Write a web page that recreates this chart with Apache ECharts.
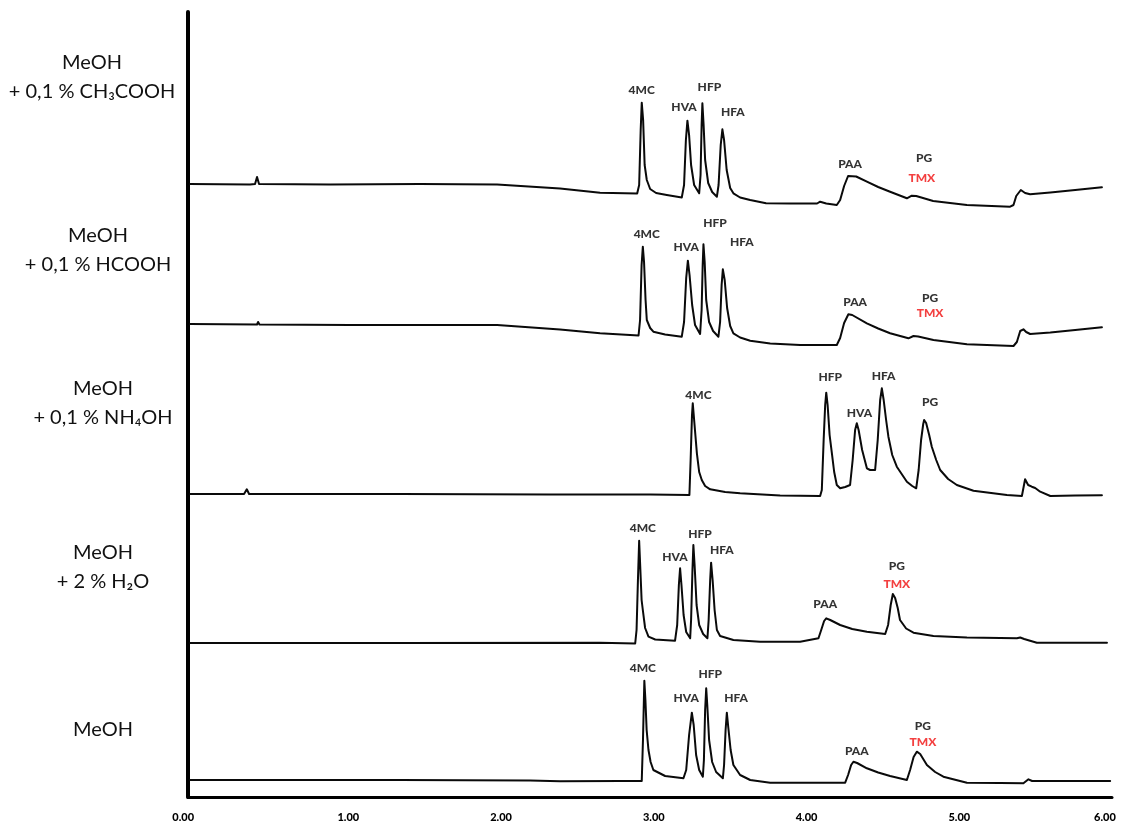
<!DOCTYPE html>
<html>
<head>
<meta charset="utf-8">
<script src="https://cdn.jsdelivr.net/npm/echarts@6/dist/echarts.min.js"></script>
<style>
  html, body { margin: 0; padding: 0; background: #ffffff; }
  #chart { width: 1122px; height: 826px; }
</style>
</head>
<body>
<div id="chart"></div>
<script>
// Chromatograms: [retention time (min), signal relative to the trace baseline]
const traceAcetic = [
  [-0.037, 0], [0.356, -0.5], [0.389, 0], [0.402, 7], [0.415, 0], [0.880, -0.5], [1.470, 0],
  [1.974, -0.5], [2.386, -4.5], [2.648, -8.7], [2.891, -9.5], [2.904, -1], [2.914, 54],
  [2.921, 81.3], [2.930, 64], [2.940, 19], [2.954, 4], [2.976, -5], [3.015, -9], [3.085, -11],
  [3.183, -13.5], [3.198, -1], [3.210, 44], [3.220, 63.3], [3.231, 49], [3.244, 19], [3.264, -1],
  [3.297, -9.3], [3.306, 9], [3.313, 59], [3.318, 80.7], [3.326, 59], [3.336, 24], [3.356, 1],
  [3.382, -8], [3.413, -12.7], [3.424, -1], [3.438, 39], [3.449, 54.7], [3.460, 44], [3.477, 14],
  [3.500, -4], [3.521, -9.3], [3.565, -13.5], [3.631, -16], [3.735, -19.3], [3.893, -19.5],
  [4.069, -19.5], [4.089, -17.7], [4.129, -19.5], [4.198, -21], [4.220, -16], [4.246, -2],
  [4.272, 8], [4.285, 9], [4.325, 7.5], [4.395, 2.3], [4.469, -3], [4.547, -7.7], [4.657, -14.3],
  [4.689, -11.7], [4.718, -12], [4.829, -17], [5.050, -21], [5.333, -22.7], [5.355, -21],
  [5.373, -12], [5.403, -6], [5.431, -9], [5.464, -10.3], [5.596, -8.5], [5.759, -6], [5.934, -3.3]
];

const traceFormic = [
  [-0.037, 0], [0.402, -0.5], [0.409, 2], [0.418, -0.5], [1.011, -1], [1.974, -1], [2.386, -5.5],
  [2.648, -9.3], [2.900, -11.5], [2.910, 4], [2.920, 59], [2.928, 77.3], [2.936, 62], [2.946, 24],
  [2.954, 4], [2.976, -4], [2.997, -7.7], [3.074, -10.5], [3.183, -12.7], [3.198, 2], [3.212, 46],
  [3.223, 63.3], [3.234, 49], [3.251, 19], [3.270, -1], [3.303, -10], [3.313, 14], [3.320, 59],
  [3.325, 79.7], [3.333, 62], [3.343, 24], [3.362, 2], [3.388, -7], [3.423, -12.7], [3.434, 2],
  [3.444, 39], [3.452, 54.7], [3.464, 44], [3.480, 16], [3.500, -2], [3.521, -9.3], [3.565, -13.5],
  [3.631, -16.7], [3.762, -19.5], [3.958, -21], [4.198, -21], [4.220, -14], [4.246, 1],
  [4.274, 9.7], [4.299, 9], [4.395, 0.7], [4.469, -4.5], [4.547, -9.3], [4.667, -14.3],
  [4.700, -12], [4.731, -12.5], [4.831, -16], [5.050, -20.3], [5.355, -22], [5.377, -18],
  [5.399, -7], [5.420, -5.3], [5.438, -8], [5.464, -10], [5.596, -8.5], [5.759, -6], [5.934, -3.3]
];

const traceAmmonia = [
  [-0.037, 0], [0.317, 0], [0.335, 4.7], [0.350, 0], [1.339, 0], [2.321, -0.5], [2.976, -0.5],
  [3.233, -1], [3.241, 34], [3.250, 79], [3.255, 90.7], [3.264, 74], [3.282, 40.7], [3.297, 22],
  [3.314, 14], [3.336, 8], [3.369, 4.7], [3.467, 2], [3.565, 0.7], [3.827, -1.5], [4.089, -2],
  [4.100, 4], [4.112, 54], [4.122, 89], [4.129, 101.3], [4.138, 89], [4.151, 59], [4.166, 40.7],
  [4.181, 22], [4.198, 9], [4.220, 5.7], [4.253, 7], [4.285, 9], [4.302, 34], [4.318, 64],
  [4.329, 70.7], [4.341, 64], [4.364, 44], [4.395, 25.7], [4.416, 24], [4.449, 24], [4.466, 54],
  [4.482, 94], [4.493, 105.7], [4.505, 94], [4.521, 74], [4.536, 57.3], [4.561, 39], [4.591, 27.3],
  [4.657, 12.3], [4.692, 8], [4.718, 5.7], [4.734, 24], [4.750, 54], [4.764, 70], [4.770, 74],
  [4.783, 71], [4.803, 59], [4.820, 47.3], [4.849, 34], [4.875, 24], [4.927, 15], [4.984, 9],
  [5.093, 3.3], [5.312, -1], [5.410, -2], [5.431, 14.7], [5.451, 9], [5.475, 7.3], [5.497, 6],
  [5.530, 2.3], [5.596, -2], [5.759, -1.5], [5.934, -1.3]
];

const traceWater = [
  [-0.037, 0], [1.339, 0], [2.648, 0.3], [2.878, -0.5], [2.887, 13], [2.896, 63], [2.904, 102.3],
  [2.912, 73], [2.920, 43], [2.928, 33], [2.943, 15], [2.965, 6.3], [3.009, 3.5], [3.139, 2.3],
  [3.153, 18], [3.164, 58], [3.172, 74.7], [3.181, 58], [3.195, 28], [3.212, 11], [3.238, 4.7],
  [3.244, 23], [3.253, 73], [3.259, 98], [3.267, 78], [3.280, 38], [3.297, 18], [3.323, 9],
  [3.351, 4.7], [3.359, 23], [3.369, 63], [3.375, 80.3], [3.385, 63], [3.398, 33], [3.413, 13],
  [3.434, 7], [3.521, 3], [3.696, 1.3], [3.958, 1.3], [4.078, 4.7], [4.096, 13], [4.115, 22],
  [4.129, 24.7], [4.155, 23], [4.220, 18], [4.299, 14], [4.395, 11.3], [4.515, 9], [4.534, 18],
  [4.551, 38], [4.565, 49], [4.580, 45], [4.597, 35], [4.612, 23], [4.652, 14.5], [4.700, 10.3],
  [4.831, 7], [5.050, 5.5], [5.268, 5], [5.377, 4.7], [5.399, 5.5], [5.425, 4], [5.508, 0.3],
  [5.726, 0.3], [5.967, 0.3]
];

const traceMethanol = [
  [-0.037, 0], [1.339, 0], [2.190, -0.5], [2.386, -1.3], [2.779, -1], [2.921, -1], [2.929, 40],
  [2.935, 80], [2.938, 99.3], [2.945, 80], [2.953, 50], [2.965, 30], [2.979, 18], [2.997, 10],
  [3.074, 4], [3.194, 1.7], [3.212, 10], [3.231, 45], [3.249, 67.3], [3.261, 55], [3.277, 25],
  [3.297, 10], [3.321, 3.3], [3.328, 20], [3.336, 70], [3.343, 91.7], [3.350, 75], [3.362, 40],
  [3.382, 18], [3.408, 8], [3.452, 1.7], [3.460, 15], [3.470, 50], [3.478, 67.3], [3.488, 52],
  [3.503, 30], [3.521, 15], [3.565, 5], [3.631, 0], [3.762, -2.7], [4.253, -2.7], [4.272, 5],
  [4.292, 15], [4.307, 18.3], [4.331, 17], [4.395, 11.7], [4.469, 7.5], [4.547, 4], [4.657, 0],
  [4.678, 10], [4.701, 23], [4.722, 28.3], [4.744, 26], [4.788, 15], [4.842, 8], [4.896, 3.3],
  [5.050, -2.7], [5.268, -3], [5.420, -3.3], [5.453, 0.7], [5.477, -1], [5.661, -1], [5.988, -1]
];

// Peak names: [compound, retention time, label height above baseline]
const peaksAcetic = [
  ['4MC', 2.921, 94], ['HVA', 3.198, 77], ['HFP', 3.364, 97], ['HFA', 3.517, 72],
  ['PAA', 4.285, 20], ['PG', 4.770, 26], ['TMX', 4.755, 6]
];
const peaksFormic = [
  ['4MC', 2.954, 90], ['HVA', 3.212, 77], ['HFP', 3.401, 101], ['HFA', 3.576, 82],
  ['PAA', 4.318, 22], ['PG', 4.809, 26], ['TMX', 4.809, 11]
];
const peaksAmmonia = [
  ['4MC', 3.292, 99], ['HFP', 4.155, 117], ['HVA', 4.346, 81], ['HFA', 4.504, 118], ['PG', 4.809, 92]
];
const peaksWater = [
  ['4MC', 2.928, 115], ['HVA', 3.139, 86], ['HFP', 3.303, 109], ['HFA', 3.445, 93],
  ['PAA', 4.122, 39], ['PG', 4.591, 77], ['TMX', 4.591, 59]
];
const peaksMethanol = [
  ['4MC', 2.928, 112], ['HVA', 3.212, 82], ['HFP', 3.369, 106], ['HFA', 3.539, 82],
  ['PAA', 4.329, 29], ['PG', 4.762, 54], ['TMX', 4.762, 38]
];

const sampleNames = [
  'MeOH\n+ 0,1 % CH₃COOH',
  'MeOH\n+ 0,1 % HCOOH',
  'MeOH\n+ 0,1 % NH₄OH',
  'MeOH\n+ 2 % H₂O',
  'MeOH'
];
const timeTicks = [0, 1, 2, 3, 4, 5, 6];

// Vertical stacking of the traces (signal units)
const traceOffsets = [613, 473, 303, 154, 17];
const traces = [traceAcetic, traceFormic, traceAmmonia, traceWater, traceMethanol];
const peakSets = [peaksAcetic, peaksFormic, peaksAmmonia, peaksWater, peaksMethanol];

// Sample name placement at the left of the axis
const nameAnchors = [[92, 77], [98, 250], [103, 403], [103, 567], [103, 730]];

const INK = '#000000';
const HIGHLIGHT = '#f01010';
const FONT = 'Lato, "Open Sans", "DejaVu Sans", sans-serif';

const chart = echarts.init(document.getElementById('chart'), null, { renderer: 'canvas' });

const series = [];
traces.forEach((trace, i) => {
  const off = traceOffsets[i];
  series.push({
    type: 'line',
    data: trace.map(([t, s]) => [t, s + off]),
    symbol: 'none',
    smooth: false,
    silent: true,
    lineStyle: { color: '#0a0a0a', width: 2, join: 'round', cap: 'round' },
    z: 3
  });
  series.push({
    type: 'scatter',
    symbolSize: 0,
    silent: true,
    data: peakSets[i].map(([name, t, h]) => ({
      name: name,
      value: [t, h + off],
      label: { color: name === 'TMX' ? HIGHLIGHT : INK }
    })),
    label: {
      show: true,
      position: 'inside',
      formatter: p => p.name,
      fontFamily: FONT,
      fontWeight: 900,
      fontSize: 12
    },
    z: 4
  });
});

chart.setOption({
  animation: false,
  backgroundColor: '#ffffff',
  grid: { left: 188, right: 10, top: 12, bottom: 29, containLabel: false },
  xAxis: {
    type: 'value',
    min: -0.05,
    max: 6,
    splitNumber: 6,
    axisLine: { show: true, onZero: false, lineStyle: { color: INK, width: 3 } },
    axisTick: { show: false },
    splitLine: { show: false },
    axisLabel: {
      showMinLabel: false,
      margin: 15,
      fontFamily: FONT,
      fontWeight: 900,
      fontSize: 11,
      color: INK,
      formatter: v => {
        const txt = timeTicks.includes(Math.round(v)) ? Math.abs(v).toFixed(2) : '';
        if (Math.abs(v) < 1e-9) return '{first|' + txt + '}';
        if (Math.abs(v - 6) < 1e-9) return '{last|' + txt + '}';
        return txt;
      },
      rich: {
        first: { padding: [0, 25, 0, 0], fontFamily: FONT, fontWeight: 900, fontSize: 11, color: INK },
        last: { padding: [0, 14, 0, 0], fontFamily: FONT, fontWeight: 900, fontSize: 11, color: INK }
      }
    }
  },
  yAxis: {
    type: 'value',
    min: 0,
    max: 785,
    axisLine: { show: true, onZero: false, lineStyle: { color: INK, width: 4 } },
    axisTick: { show: false },
    axisLabel: { show: false },
    splitLine: { show: false }
  },
  graphic: sampleNames.map((txt, i) => ({
    type: 'text',
    x: nameAnchors[i][0],
    y: nameAnchors[i][1],
    silent: true,
    style: {
      text: txt,
      fill: '#111111',
      font: '20px ' + FONT,
      align: 'center',
      verticalAlign: 'middle',
      lineHeight: 29
    }
  })),
  series: series
});
</script>
</body>
</html>
